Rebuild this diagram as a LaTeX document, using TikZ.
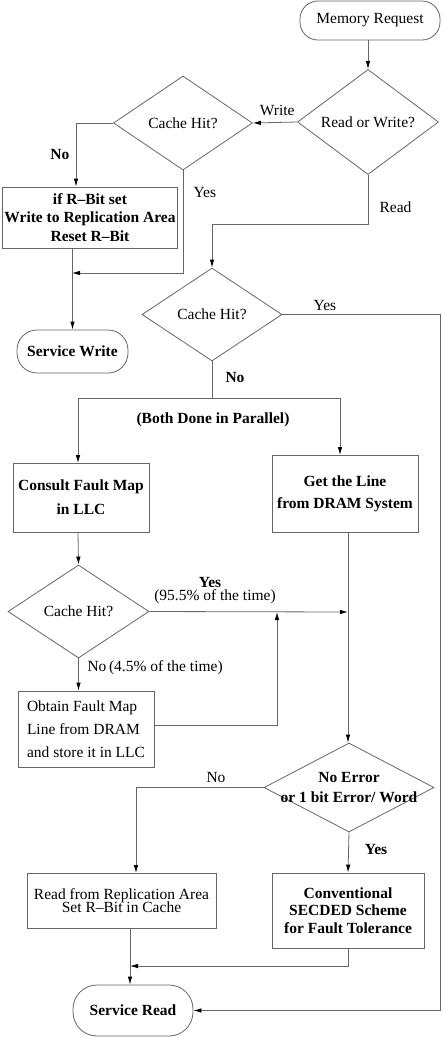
\documentclass[tikz,border=0pt]{standalone}
\usepackage{fontspec}
\setmainfont{Liberation Serif}
\usetikzlibrary{arrows.meta,shapes.geometric}

\begin{document}
\begin{tikzpicture}[x=1pt,y=-1pt,>={Latex[length=8pt,width=4.5pt,color=black]},
  every node/.style={font=\fontsize{15.5}{18.6}\selectfont},
  line/.style={draw=black!60,line width=0.8pt},
  proc/.style={line,rectangle,align=center,inner sep=2pt},
  term/.style={proc,rounded corners=#1},
  decide/.style={line,diamond,inner sep=0pt,align=center}]
  \useasboundingbox (0,0) rectangle (443,1037);
  % write branch
  \node[term=18pt,minimum width=140,minimum height=39] (req) at (370,20.5) {Memory Request};
  \node[decide,minimum width=141,minimum height=92] (rw) at (368,122) {Read or Write?};
  \node[decide,minimum width=139,minimum height=94] (wh) at (183,123) {Cache Hit?};
  \node[proc,font=\fontsize{15.5}{18.6}\selectfont\bfseries,minimum width=174,minimum height=61] (wbox) at (90,217.5)
    {if R--Bit set\\Write to Replication Area\\Reset R--Bit};
  \node[term=20pt,font=\fontsize{15.5}{18.6}\selectfont\bfseries,minimum width=111,minimum height=43] (swr) at (72.5,351.5) {Service Write};
  % read branch
  \node[decide,minimum width=140,minimum height=93] (rh) at (212,314.5) {Cache Hit?};
  \node[proc,font=\fontsize{15.5}{18.6}\selectfont\bfseries,minimum width=136,minimum height=69] (cfm) at (81,497.5)
    {Consult Fault Map\\[5.4pt]in LLC};
  \node[proc,font=\fontsize{15.5}{18.6}\selectfont\bfseries,minimum width=146,minimum height=77] (gtl) at (345,493.5)
    {Get the Line\\[3pt]from DRAM System};
  \node[decide,minimum width=141,minimum height=93] (fh) at (78.5,611.5) {Cache Hit?};
  \node[proc,align=left,minimum width=136,minimum height=76] (obt) at (86,729)
    {Obtain Fault Map\\[4.4pt]Line from DRAM\\[4.4pt]and store it in LLC};
  \node[decide,minimum width=170,minimum height=89,
    label={[font=\fontsize{15.5}{18.6}\selectfont\bfseries,align=center]center:No Error\\[1.4pt]or 1 bit Error/ Word}] (err) at (349,787.5) {};
  \node[proc,minimum width=189,minimum height=55] (rra) at (121.5,900.5)
    {Read from Replication Area\\[-5pt]Set R--Bit in Cache};
  \node[proc,font=\fontsize{15.5}{18.6}\selectfont\bfseries,minimum width=152,minimum height=75] (sec) at (348,910.5)
    {Conventional\\[-1pt]SECDED Scheme\\[-1pt]for Fault Tolerance};
  \node[term=24pt,font=\fontsize{15.5}{18.6}\selectfont\bfseries,minimum width=120,minimum height=51] (srd) at (133,1010.5) {Service Read};

  \coordinate (wjoin) at (72,273);
  \coordinate (rturn) at (368,224);
  \coordinate (split) at (212,398);
  \coordinate (yjoin) at (348,612);
  \coordinate (mjoin) at (277,612);
  \coordinate (sjoin) at (130,966);

  \draw[line,->] (req.south -| rw.north) -- (rw.north);
  \draw[line,->] (rw.west) -- (wh.east) node[pos=0.45,above=3pt,black] {Write};
  \draw[line,->] (wh.west) -| ([xshift=-14pt]wbox.north)
    node[pos=0.75,left=3pt,black,font=\fontsize{15.5}{18.6}\selectfont\bfseries] {No};
  \draw[line,->] (wh.south) -- (wh.south |- wjoin) -- (wjoin);
  \node[anchor=west] at (190,192) {Yes};
  \draw[line,->] (swr.north |- wbox.south) -- (swr.north);
  \draw[line,->] (rw.south) -- (rturn) -| (rh.north);
  \node[anchor=west] at (376,207) {Read};
  \draw[line,->] (rh.east) -- (440,314.5) |- (srd.east);
  \node at (325,305) {Yes};
  \draw[line] (rh.south) -- (split);
  \draw[line,->] (split) -- (78,398) -- (78,463);
  \draw[line,->] (split) -- (340,398) -- (340,455);
  \node[font=\fontsize{15.5}{18.6}\selectfont\bfseries] at (235,377) {No};
  \node[font=\fontsize{15.5}{18.6}\selectfont\bfseries] at (213,420) {(Both Done in Parallel)};
  \draw[line,->] (78,532) -- (fh.north);
  \draw[line,->] (fh.east) -- (yjoin);
  \node[font=\fontsize{15.5}{18.6}\selectfont\bfseries] at (210,582) {Yes};
  \node at (215,597) {(95.5\% of the time)};
  \draw[line,->] (fh.south) -- (fh.south |- obt.north);
  \node[anchor=west] at (84,668) {No\,(4.5\% of the time)};
  \draw[line,->] (obt.east |- 0,725) -- (277,725) -- (mjoin);
  \draw[line,->] (gtl.south -| yjoin) -- (yjoin |- err.north);
  \draw[line,->] (err.west) -| (136,873);
  \node at (216,777) {No};
  \draw[line,->] (err.south) -- (sec.north);
  \node[font=\fontsize{15.5}{18.6}\selectfont\bfseries] at (376,849) {Yes};
  \draw[line,->] (sjoin |- rra.south) -- (sjoin |- srd.north);
  \draw[line,->] (sec.south) -- (sec.south |- sjoin) -- (sjoin);
\end{tikzpicture}
\end{document}
